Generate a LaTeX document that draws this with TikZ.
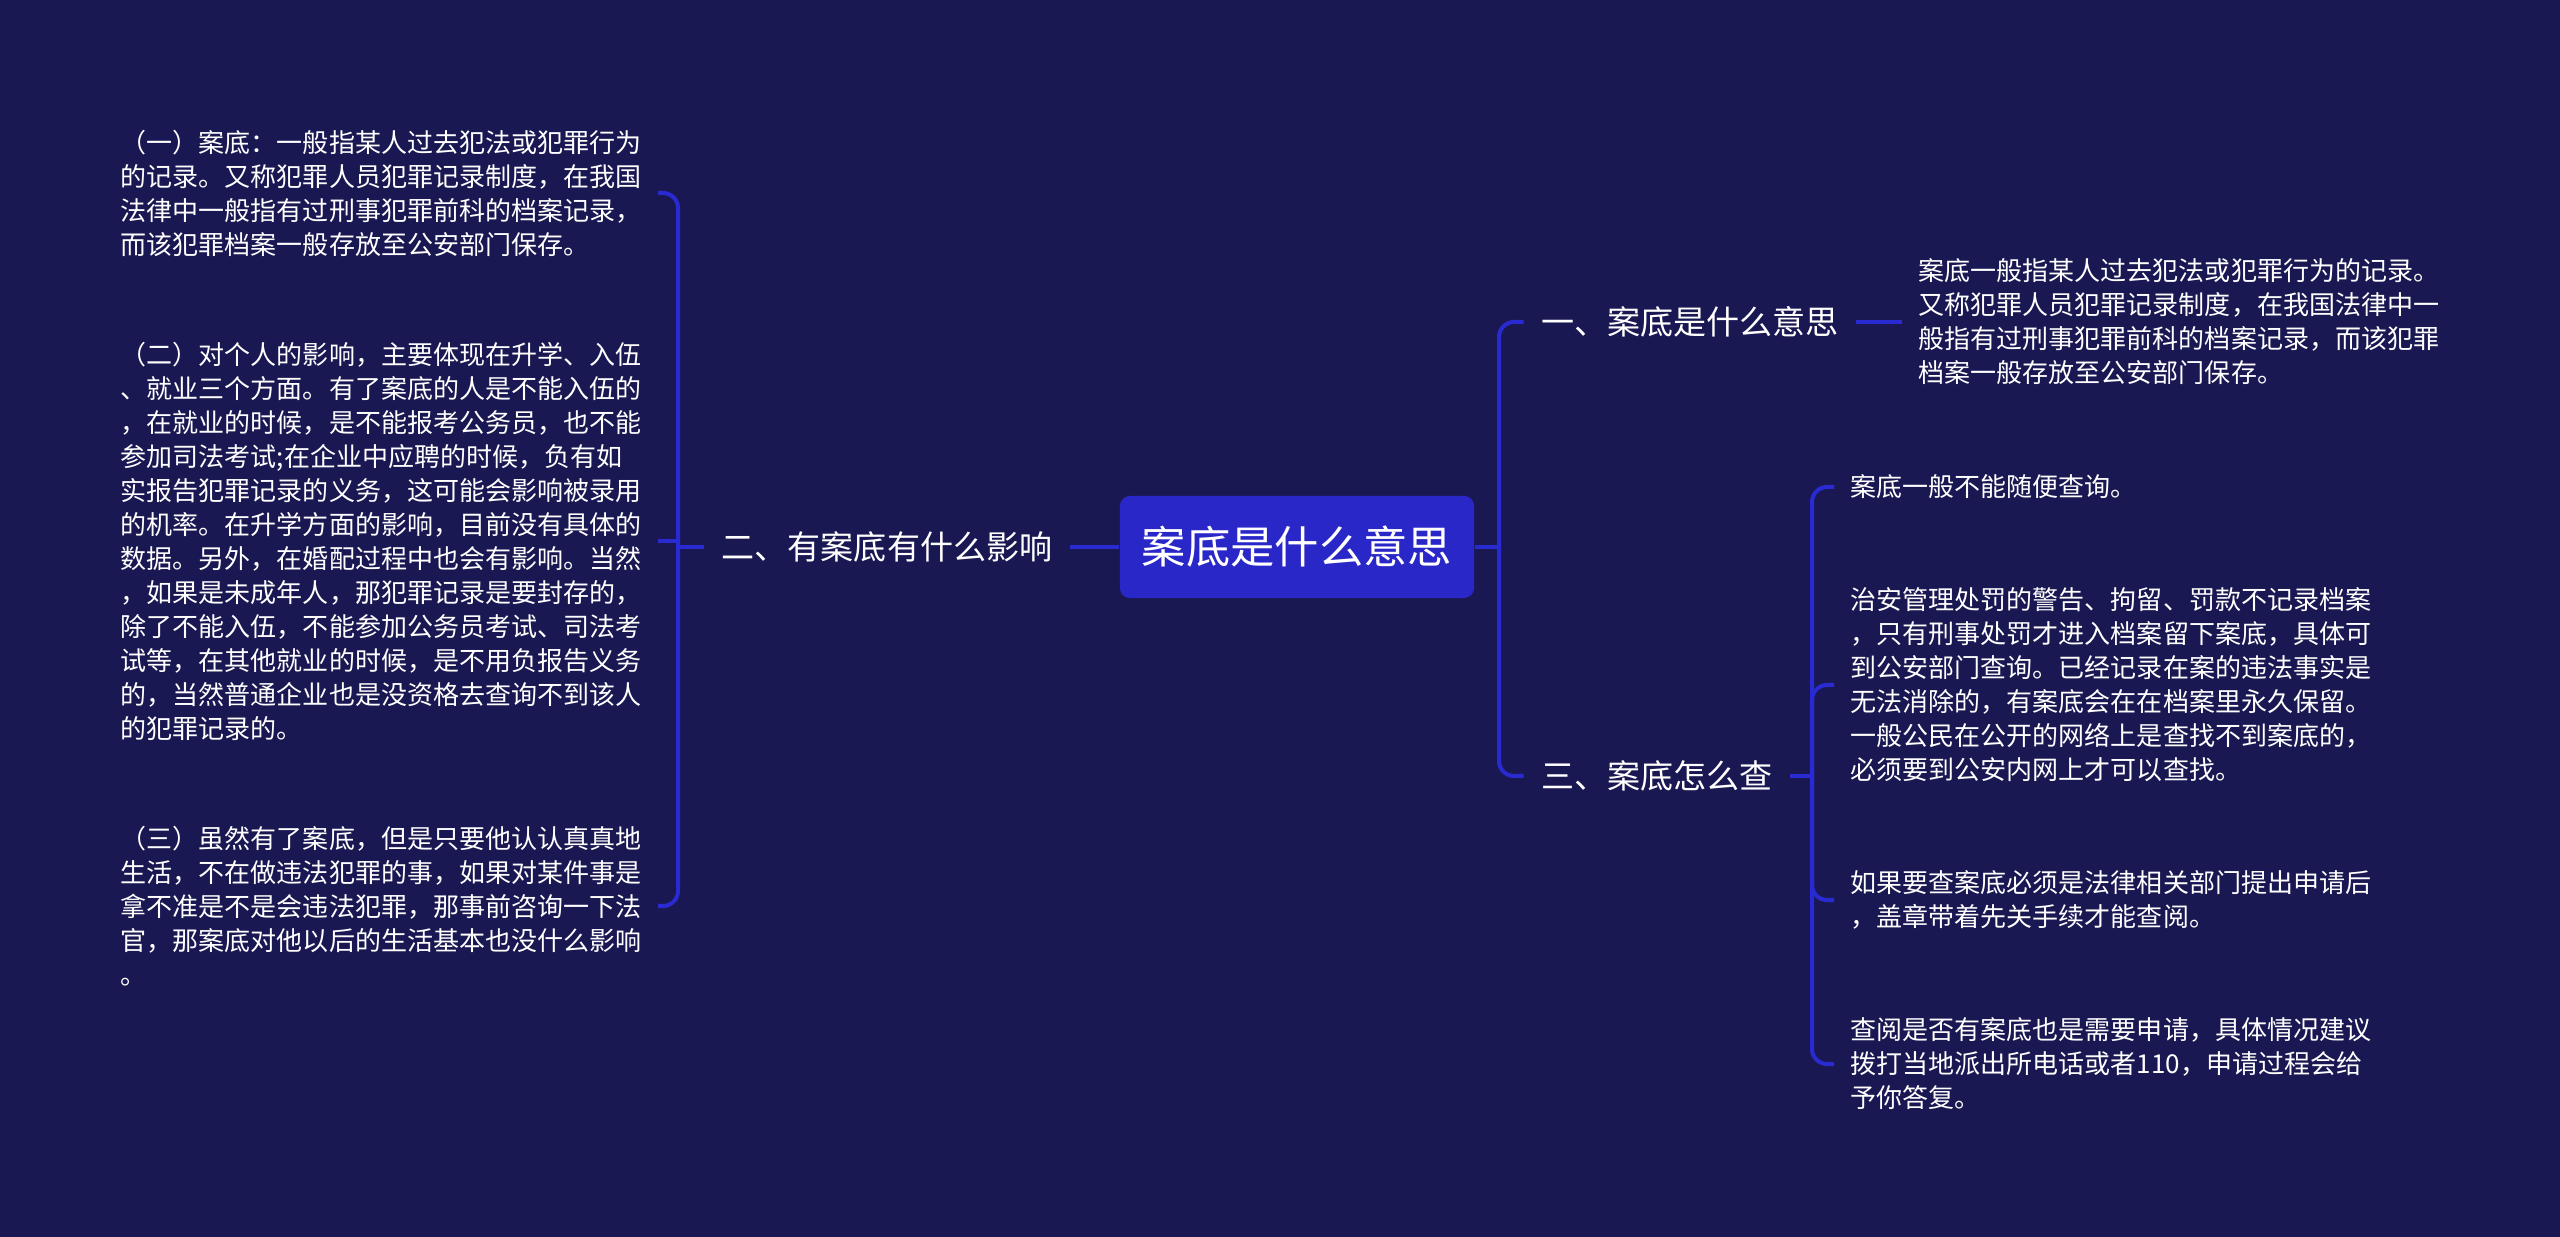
\documentclass[tikz,border=0pt]{standalone}
\usepackage{fontspec}
\setmainfont{Noto Sans CJK SC}
\definecolor{bgblue}{RGB}{26,24,82}
\definecolor{boxblue}{RGB}{42,39,200}
\definecolor{lineblue}{RGB}{42,42,210}
\begin{document}
\begin{tikzpicture}[x=0.01cm,y=-0.01cm,
  conn/.style={draw=lineblue, line width=0.04cm, rounded corners=0.15cm},
  leaf/.style={text=white, font=\fontsize{7.4}{9.67}\selectfont, align=left, inner xsep=0.16cm, inner ysep=0.05cm},
  topic/.style={text=white, font=\fontsize{9.4}{12}\selectfont, inner xsep=0.17cm},
  rootbox/.style={fill=boxblue, rounded corners=0.1cm, text=white, font=\fontsize{12.6}{15}\selectfont, minimum width=3.54cm, minimum height=1.02cm}]
\fill[bgblue] (0,0) rectangle (2560,1237);
\useasboundingbox (0,0) rectangle (2560,1237);

\node[rootbox] (root) at (1297,547) {案底是什么意思};
\node[topic] (n2) at (887,547) {二、有案底有什么影响};
\node[topic] (n1) at (1690,322) {一、案底是什么意思};
\node[topic] (n3) at (1657,776) {三、案底怎么查};

\node[leaf, anchor=east] (l1) at (658,193) {（一）案底：一般指某人过去犯法或犯罪行为\\的记录。又称犯罪人员犯罪记录制度，在我国\\法律中一般指有过刑事犯罪前科的档案记录，\\而该犯罪档案一般存放至公安部门保存。};
\node[leaf, anchor=east] (l2) at (658,541) {（二）对个人的影响，主要体现在升学、入伍\\、就业三个方面。有了案底的人是不能入伍的\\，在就业的时候，是不能报考公务员，也不能\\参加司法考试;在企业中应聘的时候，负有如\\实报告犯罪记录的义务，这可能会影响被录用\\的机率。在升学方面的影响，目前没有具体的\\数据。另外，在婚配过程中也会有影响。当然\\，如果是未成年人，那犯罪记录是要封存的，\\除了不能入伍，不能参加公务员考试、司法考\\试等，在其他就业的时候，是不用负报告义务\\的，当然普通企业也是没资格去查询不到该人\\的犯罪记录的。};
\node[leaf, anchor=east] (l3) at (658,906) {（三）虽然有了案底，但是只要他认认真真地\\生活，不在做违法犯罪的事，如果对某件事是\\拿不准是不是会违法犯罪，那事前咨询一下法\\官，那案底对他以后的生活基本也没什么影响\\。};

\node[leaf, anchor=west] (r1) at (1902,322) {案底一般指某人过去犯法或犯罪行为的记录。\\又称犯罪人员犯罪记录制度，在我国法律中一\\般指有过刑事犯罪前科的档案记录，而该犯罪\\档案一般存放至公安部门保存。};
\node[leaf, anchor=west] (r2) at (1834,487) {案底一般不能随便查询。};
\node[leaf, anchor=west] (r3) at (1834,685) {治安管理处罚的警告、拘留、罚款不记录档案\\，只有刑事处罚才进入档案留下案底，具体可\\到公安部门查询。已经记录在案的违法事实是\\无法消除的，有案底会在在档案里永久保留。\\一般公民在公开的网络上是查找不到案底的，\\必须要到公安内网上才可以查找。};
\node[leaf, anchor=west] (r4) at (1834,900) {如果要查案底必须是法律相关部门提出申请后\\，盖章带着先关手续才能查阅。};
\node[leaf, anchor=west] (r5) at (1834,1064) {查阅是否有案底也是需要申请，具体情况建议\\拨打当地派出所电话或者110，申请过程会给\\予你答复。};

\coordinate (b1) at (1499,547);
\coordinate (b2) at (678,547);
\coordinate (b3) at (1812,776);

\draw[conn] (root.west) -- (n2.east);
\draw[conn] (n2.west) -- (b2);
\draw[conn] (b2) |- (l1.east);
\draw[conn] (b2) |- (l3.east);
\draw[conn] (l2.east) -- (l2.east -| b2);

\draw[conn] (root.east) -- (b1);
\draw[conn] (b1) |- (n1.west);
\draw[conn] (b1) |- (n3.west);
\draw[conn] (n1.east) -- (n1.east -| r1.west);
\draw[conn] (n3.east) -- (b3);
\draw[conn] (b3) |- (r2.west);
\draw[conn] (b3) |- (r3.west);
\draw[conn] (b3) |- (r4.west);
\draw[conn] (b3) |- (r5.west);
\end{tikzpicture}
\end{document}
